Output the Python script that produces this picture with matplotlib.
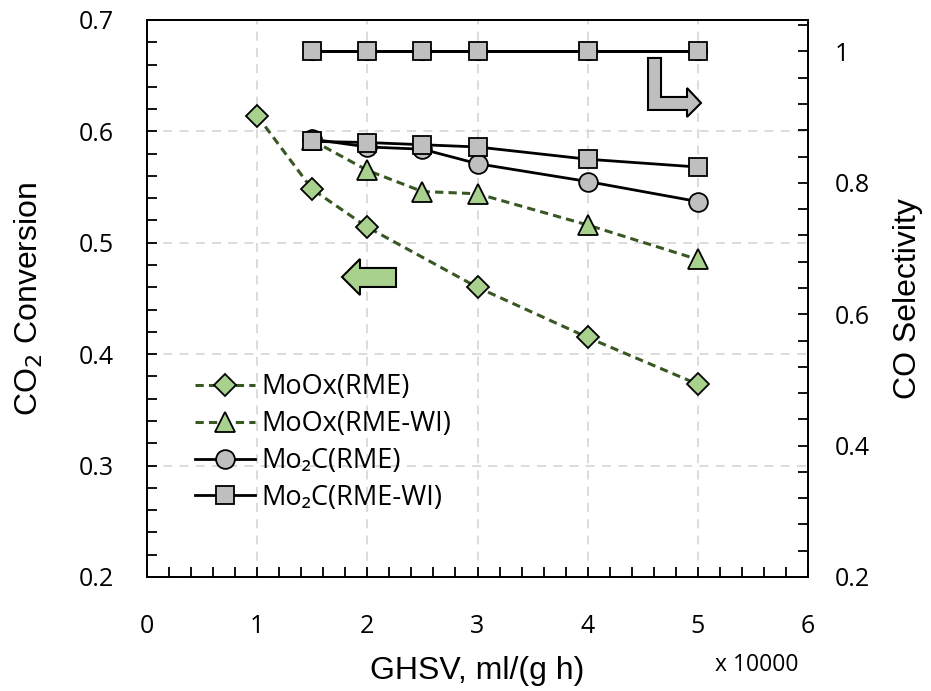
import matplotlib
matplotlib.use("Agg")
import matplotlib.pyplot as plt
from matplotlib.patches import Polygon
from matplotlib.ticker import MultipleLocator, FuncFormatter

plt.rcParams['font.family'] = ['Open Sans', 'DejaVu Sans']

# Data (GHSV in units of 10000 ml/(g h))
x_moox_rme = [1, 1.5, 2, 3, 4, 5]
conv_moox_rme = [0.614, 0.548, 0.514, 0.460, 0.415, 0.373]

x_moox_wi = [1.5, 2, 2.5, 3, 4, 5]
conv_moox_wi = [0.592, 0.565, 0.546, 0.544, 0.516, 0.485]

x_mo2c = [1.5, 2, 2.5, 3, 4, 5]
conv_mo2c_rme = [0.593, 0.586, 0.584, 0.571, 0.555, 0.537]
conv_mo2c_wi = [0.591, 0.590, 0.588, 0.586, 0.575, 0.568]
sel_mo2c_rme = [1.0, 1.0, 1.0, 1.0, 1.0, 1.0]
sel_mo2c_wi = [1.0, 1.0, 1.0, 1.0, 1.0, 1.0]

labels = ['MoOx(RME)', 'MoOx(RME-WI)', 'Mo\u2082C(RME)', 'Mo\u2082C(RME-WI)']

green_fill = '#a9d18e'
green_line = '#385723'
gray_fill = '#bfbfbf'
label_font = ['Liberation Sans', 'DejaVu Sans']

fig = plt.figure(figsize=(9.31, 6.91), dpi=100)
ax = fig.add_axes([0.1579, 0.1650, 0.7100, 0.8061])
ax2 = ax.twinx()

ax.set_xlim(0, 6)
ax.set_ylim(0.2, 0.7)
ax2.set_ylim(0.2, 1.048)

ax.grid(True, which='major', color='#d9d9d9', linestyle=(0, (5, 4)), linewidth=1.3)
ax.set_axisbelow(True)

dash = (0, (2.7, 1.7))
ax.plot(x_moox_rme, conv_moox_rme, linestyle=dash, color=green_line, linewidth=2.2,
        marker='D', markersize=11, markerfacecolor=green_fill, markeredgecolor='black',
        markeredgewidth=1.3, label=labels[0], zorder=3)
ax.plot(x_moox_wi, conv_moox_wi, linestyle=dash, color=green_line, linewidth=2.2,
        marker='^', markersize=14.5, markerfacecolor=green_fill, markeredgecolor='black',
        markeredgewidth=1.3, label=labels[1], zorder=3)
ax.plot(x_mo2c, conv_mo2c_rme, linestyle='-', color='black', linewidth=2.0,
        marker='o', markersize=13.5, markerfacecolor=gray_fill, markeredgecolor='black',
        markeredgewidth=1.3, label=labels[2], zorder=4)
ax.plot(x_mo2c, conv_mo2c_wi, linestyle='-', color='black', linewidth=2.0,
        marker='s', markersize=13, markerfacecolor=gray_fill, markeredgecolor='black',
        markeredgewidth=1.3, label=labels[3], zorder=5)

ax2.plot(x_mo2c, sel_mo2c_rme, linestyle='-', color='black', linewidth=2.0,
         marker='o', markersize=12.5, markerfacecolor=gray_fill, markeredgecolor='black',
         markeredgewidth=1.3, zorder=4)
ax2.plot(x_mo2c, sel_mo2c_wi, linestyle='-', color='black', linewidth=2.0,
         marker='s', markersize=13, markerfacecolor=gray_fill, markeredgecolor='black',
         markeredgewidth=1.3, zorder=5)

# ticks
ax.xaxis.set_major_locator(MultipleLocator(1))
ax.xaxis.set_minor_locator(MultipleLocator(0.2))
ax.yaxis.set_major_locator(MultipleLocator(0.1))
ax.yaxis.set_minor_locator(MultipleLocator(0.02))
ax2.yaxis.set_major_locator(MultipleLocator(0.2))
ax2.yaxis.set_minor_locator(MultipleLocator(0.04))

ax.tick_params(axis='both', which='both', direction='in', labelsize=18, width=1.3,
               length=7, color='black')
ax.tick_params(axis='y', which='major', pad=24)
ax.tick_params(axis='x', which='major', pad=27)
ax2.tick_params(axis='y', which='both', direction='in', labelsize=18, width=1.3, length=7)
ax2.tick_params(axis='y', which='major', pad=19)

ax.xaxis.set_major_formatter(FuncFormatter(lambda v, p: f'{v:g}'))
ax.yaxis.set_major_formatter(FuncFormatter(lambda v, p: f'{v:.1f}'))
ax2.yaxis.set_major_formatter(FuncFormatter(lambda v, p: '1' if v >= 0.99 else f'{v:.1f}'))

for sp in list(ax.spines.values()) + list(ax2.spines.values()):
    sp.set_linewidth(1.3)

ax.set_ylabel('CO$_2$ Conversion', fontsize=23, family=label_font)
ax2.set_ylabel('CO Selectivity', fontsize=23, family=label_font)
ax.set_xlabel('GHSV, ml/(g h)', fontsize=23, family=label_font)
ax.yaxis.set_label_coords(-0.155, 0.5)
ax2.yaxis.set_label_coords(1.129, 0.5)
ax.xaxis.set_label_coords(0.5, -0.1418)
fig.text(757 / 931, 1 - 665 / 691, 'x 10000', fontsize=16.5, ha='center', va='center')

ax.legend(loc='upper left', bbox_to_anchor=(0.0726, 0.366), frameon=False, fontsize=19.5,
          handlelength=2.2, labelspacing=0.33, handletextpad=0.26, borderaxespad=0,
          borderpad=0)

# Annotation arrows (axes fraction coordinates)
def px2ax(px, py):
    return ((px - 147) / 661.0, (577 - py) / 557.0)

green_arrow = [px2ax(342, 277), px2ax(360, 259), px2ax(360, 268), px2ax(396, 268),
               px2ax(396, 287), px2ax(360, 287), px2ax(360, 295)]
ax.add_patch(Polygon(green_arrow, closed=True, transform=ax.transAxes, facecolor=green_fill,
                     edgecolor='black', linewidth=1.5, zorder=6))

gray_arrow = [px2ax(648, 58), px2ax(661, 58), px2ax(661, 97), px2ax(687, 97), px2ax(687, 88),
              px2ax(701, 103), px2ax(687, 117), px2ax(687, 110), px2ax(648, 110)]
ax.add_patch(Polygon(gray_arrow, closed=True, transform=ax.transAxes, facecolor=gray_fill,
                     edgecolor='black', linewidth=1.5, zorder=6))

fig.savefig('out.png', dpi=100)
